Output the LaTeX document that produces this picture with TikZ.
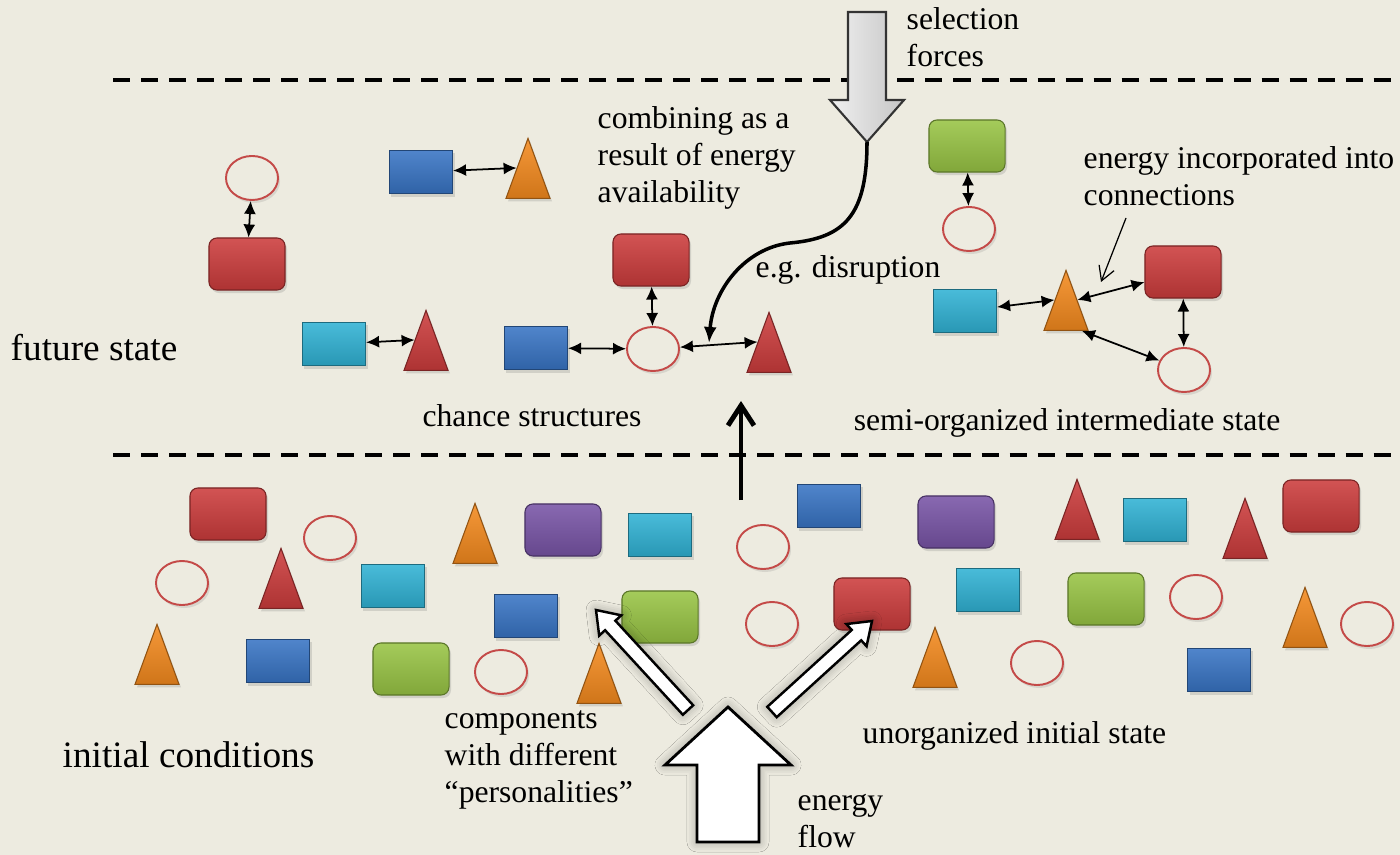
\documentclass[tikz,border=0pt]{standalone}
\usepackage{fontspec}
\setmainfont{Liberation Serif}
\usetikzlibrary{calc,shapes.geometric,shadows,shadows.blur,arrows.meta}

\definecolor{paper}{HTML}{EDEBE0}
\definecolor{cred}{HTML}{CC3C3C}
\definecolor{cblue}{HTML}{3874C4}
\definecolor{ccyan}{HTML}{30B2D4}
\definecolor{cgreen}{HTML}{98C444}
\definecolor{cpurple}{HTML}{7854A6}
\definecolor{corange}{HTML}{F48A1E}
\definecolor{ringred}{HTML}{C44A48}

\newcommand\blockarrow[6][]{%
  \coordinate (ah) at ($(#3)!#6!(#2)$);
  \draw[#1] ($(#2)!#4!90:(#3)$) -- ($(ah)!#4!90:(#3)$) -- ($(ah)!#5!90:(#3)$) -- (#3)
    -- ($(ah)!#5!-90:(#3)$) -- ($(ah)!#4!-90:(#3)$) -- ($(#2)!#4!-90:(#3)$) -- cycle;}

\tikzset{
  part/.style={inner sep=0pt, top color=#1!88!white, bottom color=#1!85!black,
    draw=#1!60!black, line width=0.3pt,
    drop shadow={shadow xshift=0.02cm, shadow yshift=-0.03cm, opacity=0.25}},
  box/.style={part=#1, rectangle, minimum width=0.63cm, minimum height=0.43cm},
  rbox/.style={part=#1, rectangle, rounded corners=0.08cm, minimum width=0.76cm, minimum height=0.52cm},
  tri/.style={part=#1, isosceles triangle, isosceles triangle stretches, shape border rotate=90,
    minimum width=0.44cm, minimum height=0.6cm, yshift=-0.15cm},
  ring/.style={ellipse, inner sep=0pt, minimum width=0.52cm, minimum height=0.44cm, draw=ringred,
    line width=0.55pt, fill=paper,
    drop shadow={shadow xshift=0.02cm, shadow yshift=-0.03cm, opacity=0.2}},
  link/.style={{Latex[length=0.13cm,width=0.12cm]}-{Latex[length=0.13cm,width=0.12cm]}, line width=0.5pt},
  note/.style={font=\fontsize{9}{10.5}\selectfont, align=left, inner sep=0pt},
  bigtext/.style={font=\fontsize{10.6}{12.5}\selectfont, inner sep=0pt},
  divider/.style={line width=1.4pt, dash pattern=on 0.17cm off 0.11cm},
  hollow/.style={fill=white, draw=black, line width=0.8pt, line join=miter,
    blur shadow={shadow blur steps=6, shadow xshift=0pt, shadow yshift=0pt,
      shadow blur radius=0.1cm, shadow opacity=35}},
}

\begin{document}
\begin{tikzpicture}[x=0.01cm, y=-0.01cm]

    \fill[paper] (0,0) rectangle (1400,855);
    \useasboundingbox (0,0) rectangle (1400,855);

    %%% Dividers %%%
    \draw[divider] (113,80) -- (1400,80);
    \draw[divider] (113,455) -- (1400,455);

    %%% Future state %%%
    \node[bigtext,anchor=west] (future) at (10,348) {future state};

    \node[ring] (fa1) at (252,178) {};
    \node[rbox=cred] (fa2) at (247,264) {};
    \draw[link] (fa1) -- (fa2);

    \node[box=cblue] (fb1) at (421,172) {};
    \node[tri=corange] (fb2) at (528,168) {};
    \draw[link] (fb1) -- (fb2.left side);

    \node[box=ccyan] (fc1) at (334,344) {};
    \node[tri=cred] (fc2) at (426,340) {};
    \draw[link] (fc1) -- (fc2.left side);

    \node[box=cblue] (fd1) at (536,348) {};
    \node[ring] (fd2) at (653,349) {};
    \node[rbox=cred] (fd3) at (651,260) {};
    \node[tri=cred] (fd4) at (769,342) {};
    \draw[link] (fd1) -- (fd2);
    \draw[link] (fd3) -- (fd2);
    \draw[link] (fd2) -- (fd4.left side);
    \node[note] (chance) at (532,416) {chance structures};

    \node[note,anchor=west] (combine) at (597,158) {combining as a\\result of energy\\availability};

    \node[rbox=cgreen] (fe1) at (967,146) {};
    \node[ring] (fe2) at (969,229) {};
    \draw[link] (fe1) -- (fe2);

    \node[box=ccyan] (fg1) at (965,311) {};
    \node[tri=corange] (fg2) at (1066,300) {};
    \node[rbox=cred] (fg3) at (1183,272) {};
    \node[ring] (fg4) at (1184,370) {};
    \draw[link] (fg1) -- (fg2.left side);
    \draw[link] (fg2.right side) -- (fg3);
    \draw[link] (fg3) -- (fg4);
    \draw[link] (fg2.south east) -- (fg4);
    \node[note] (semi) at (1067,423) {semi-organized intermediate state};

    \node[note,anchor=west] (eic) at (1083,176) {energy incorporated into\\connections};
    \coordinate (eic0) at (1126,218);
    \coordinate (eic1) at (1101,282);
    \draw[line width=0.35pt, -{Straight Barb[length=0.14cm,width=0.16cm]}] (eic0) -- (eic1);

    %%% Selection forces %%%
    \coordinate (sel0) at (867,12);
    \coordinate (sel1) at (867,142);
    \blockarrow[left color=gray!12, right color=gray!45, draw=black!80, line width=0.6pt]{sel0}{sel1}{0.19cm}{0.37cm}{0.42cm}
    \node[note,anchor=west] (selection) at (906,37) {selection\\forces};

    \coordinate (disrupt) at (709,343);
    \draw[line width=1pt, -{Latex[length=0.16cm,width=0.13cm]}] (sel1)
        .. controls (867,215) and (845,238) .. (790,243)
        .. controls (745,248) and (713,290) .. (disrupt);
    \node[note,anchor=west] (eg) at (755,270) {e.g. disruption};

    \coordinate (up0) at (741,500);
    \coordinate (up1) at (741,401);
    \draw[line width=1.4pt, -{Straight Barb[length=0.2cm,width=0.26cm]}] (up0) -- (up1);

    %%% Initial conditions %%%
    \node[bigtext,anchor=west] (initial) at (62,755) {initial conditions};

    \node[rbox=cred] (i1) at (228,514) {};
    \node[ring] (i2) at (330,538) {};
    \node[ring] (i3) at (182,583) {};
    \node[tri=cred] (i4) at (281,578) {};
    \node[box=ccyan] (i5) at (393,586) {};
    \node[tri=corange] (i6) at (157,654) {};
    \node[box=cblue] (i7) at (278,661) {};
    \node[rbox=cgreen] (i8) at (411,669) {};
    \node[ring] (i9) at (501,672) {};
    \node[tri=corange] (i10) at (599,673) {};
    \node[tri=corange] (i11) at (475,533) {};
    \node[rbox=cpurple] (i12) at (563,530) {};
    \node[box=ccyan] (i13) at (660,535) {};
    \node[box=cblue] (i14) at (526,616) {};
    \node[rbox=cgreen] (i15) at (660,617) {};
    \node[ring] (i16) at (763,547) {};
    \node[box=cblue] (i17) at (829,506) {};
    \node[ring] (i18) at (772,624) {};
    \node[rbox=cred] (i19) at (872,604) {};
    \node[rbox=cpurple] (i20) at (956,522) {};
    \node[tri=cred] (i21) at (1077,509) {};
    \node[box=ccyan] (i22) at (1155,520) {};
    \node[tri=cred] (i23) at (1245,528) {};
    \node[rbox=cred] (i24) at (1321,506) {};
    \node[box=ccyan] (i25) at (988,590) {};
    \node[rbox=cgreen] (i26) at (1106,599) {};
    \node[ring] (i27) at (1196,597) {};
    \node[tri=corange] (i28) at (935,657) {};
    \node[ring] (i29) at (1037,663) {};
    \node[box=cblue] (i30) at (1219,670) {};
    \node[tri=corange] (i31) at (1305,617) {};
    \node[ring] (i32) at (1367,624) {};

    \node[note,anchor=west] (unorg) at (862,736) {unorganized initial state};
    \node[note,anchor=west] (comp) at (444,760) {components\\with different\\“personalities”};

    %%% Energy flow %%%
    \coordinate (ef0) at (728,842);
    \coordinate (ef1) at (728,707);
    \blockarrow[hollow]{ef0}{ef1}{0.31cm}{0.63cm}{0.58cm}
    \node[note,anchor=west] (energy) at (797,821) {energy\\flow};

    \coordinate (pl0) at (688,710);
    \coordinate (pl1) at (596,610);
    \blockarrow[hollow, line width=0.7pt]{pl0}{pl1}{0.07cm}{0.15cm}{0.21cm}
    \coordinate (pr0) at (772,712);
    \coordinate (pr1) at (872,621);
    \blockarrow[hollow, line width=0.7pt]{pr0}{pr1}{0.07cm}{0.15cm}{0.21cm}

\end{tikzpicture}
\end{document}
